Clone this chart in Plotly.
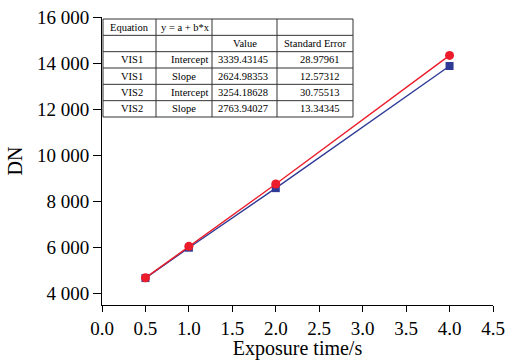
import plotly.graph_objects as go

time_s = [0.5, 1.0, 2.0, 4.0]
vis1_dn = [4650, 5970, 8560, 13870]
vis2_dn = [4660, 6030, 8740, 14330]

tbl_col1 = ["Equation", "", "VIS1", "VIS1", "VIS2", "VIS2"]
tbl_col2 = ["y = a + b*x", "", "Intercept", "Slope", "Intercept", "Slope"]
tbl_col3 = ["", "Value", "3339.43145", "2624.98353", "3254.18628", "2763.94027"]
tbl_col4 = ["", "Standard Error", "28.97961", "12.57312", "30.75513", "13.34345"]

x_ticks = [0, 0.5, 1.0, 1.5, 2.0, 2.5, 3.0, 3.5, 4.0, 4.5]
y_ticks = [4000, 6000, 8000, 10000, 12000, 14000, 16000]

FONT = "Liberation Serif"
W, H = 506, 360
ml, mr, mt, mb = 102, 13, 17, 55
pw, ph = W - ml - mr, H - mt - mb


def px(x):
    return (x - ml) / pw


def py(y):
    return (H - mb - y) / ph


fig = go.Figure()
fig.add_trace(go.Scatter(x=time_s, y=vis1_dn, mode="lines+markers", name="VIS1",
                         line=dict(color="#2e3a96", width=1.4),
                         marker=dict(symbol="square", size=8, color="#2e3a96")))
fig.add_trace(go.Scatter(x=time_s, y=vis2_dn, mode="lines+markers", name="VIS2",
                         line=dict(color="#ec1c2a", width=1.4),
                         marker=dict(symbol="circle", size=9, color="#ec1c2a")))

# table layout (pixel positions)
col_x = [103, 156, 212, 277, 353]
top, bottom = 19, 117
nrows = 6
rh = (bottom - top) / nrows
row_y = [top + i * rh for i in range(nrows + 1)]

shapes = [dict(type="rect", xref="paper", yref="paper", x0=px(col_x[0]), x1=px(col_x[-1]),
               y0=py(bottom), y1=py(top), fillcolor="white", line=dict(color="#333333", width=1),
               layer="above")]
for cx in col_x[1:-1]:
    shapes.append(dict(type="line", xref="paper", yref="paper", x0=px(cx), x1=px(cx),
                       y0=py(bottom), y1=py(top), line=dict(color="#333333", width=1), layer="above"))
for ry in row_y[1:-1]:
    shapes.append(dict(type="line", xref="paper", yref="paper", x0=px(col_x[0]), x1=px(col_x[-1]),
                       y0=py(ry), y1=py(ry), line=dict(color="#333333", width=1), layer="above"))

annotations = []
cols = [tbl_col1, tbl_col2, tbl_col3, tbl_col4]
for ci, col in enumerate(cols):
    for ri, txt in enumerate(col):
        if not txt:
            continue
        yc = (row_y[ri] + row_y[ri + 1]) / 2
        if ci == 1 and ri == 0:
            xpos, anchor = col_x[1] + 3, "left"
        elif ci == 1 and txt == "Intercept":
            xpos, anchor = col_x[2] - 2, "right"
        elif ci == 2 and ri >= 2:
            xpos, anchor = col_x[2] + 4, "left"
        elif ci == 3 and ri >= 2:
            xpos, anchor = (col_x[3] + col_x[4]) / 2 + 4, "center"
        elif ci == 0 and ri >= 2:
            xpos, anchor = (col_x[0] + col_x[1]) / 2 + 2, "center"
        else:
            xpos, anchor = (col_x[ci] + col_x[ci + 1]) / 2, "center"
        annotations.append(dict(x=px(xpos), y=py(yc), xref="paper", yref="paper",
                                text=txt, showarrow=False, xanchor=anchor, yanchor="middle",
                                font=dict(family=FONT, size=10.5, color="black")))

fig.update_layout(
    width=W, height=H, margin=dict(l=ml, r=mr, t=mt, b=mb),
    paper_bgcolor="white", plot_bgcolor="white", showlegend=False,
    separators=". ",
    font=dict(family=FONT, color="black"),
    shapes=shapes, annotations=annotations,
)
fig.update_xaxes(range=[0, 4.5], tickvals=x_ticks, tickformat=".1f", automargin=False,
                 showgrid=False, zeroline=False, showline=True, linecolor="black", linewidth=1,
                 ticks="outside", ticklen=6, tickcolor="black",
                 tickfont=dict(family=FONT, size=19),
                 title=dict(text="Exposure time/s", font=dict(family=FONT, size=20), standoff=0))
fig.update_yaxes(range=[3480, 16000], tickvals=y_ticks, tickformat=",d", automargin=False,
                 showgrid=False, zeroline=False, showline=True, linecolor="black", linewidth=1,
                 ticks="outside", ticklen=8, tickcolor="black",
                 tickfont=dict(family=FONT, size=19),
                 title=dict(text="DN", font=dict(family=FONT, size=20), standoff=8))

fig.write_html("out.html")
